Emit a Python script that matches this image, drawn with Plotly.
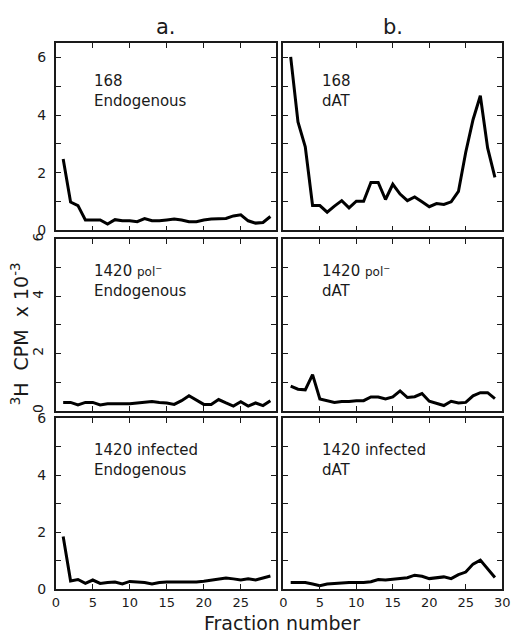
import plotly.graph_objects as go

# ---------------- data ----------------
fractions = list(range(1, 30))

a_168_endogenous = [2.48, 0.98, 0.86, 0.36, 0.36, 0.36, 0.22, 0.37, 0.33, 0.33,
                    0.30, 0.41, 0.33, 0.33, 0.36, 0.39, 0.36, 0.30, 0.30, 0.36,
                    0.39, 0.39, 0.41, 0.50, 0.54, 0.33, 0.25, 0.27, 0.48]
b_168_dat = [6.02, 3.76, 2.90, 0.86, 0.86, 0.63, 0.84, 1.03, 0.78, 1.01,
             1.01, 1.66, 1.66, 1.07, 1.60, 1.26, 1.03, 1.16, 0.99, 0.82,
             0.93, 0.90, 0.99, 1.35, 2.71, 3.84, 4.67, 2.86, 1.84]
a_1420pol_endogenous = [0.29, 0.29, 0.20, 0.29, 0.29, 0.20, 0.24, 0.24, 0.24, 0.24,
                        0.27, 0.29, 0.32, 0.29, 0.27, 0.22, 0.35, 0.52, 0.36, 0.22,
                        0.22, 0.39, 0.27, 0.16, 0.31, 0.16, 0.27, 0.18, 0.35]
b_1420pol_dat = [0.86, 0.75, 0.73, 1.26, 0.41, 0.35, 0.29, 0.32, 0.32, 0.35,
                 0.35, 0.48, 0.48, 0.41, 0.48, 0.69, 0.46, 0.49, 0.60, 0.33,
                 0.26, 0.18, 0.33, 0.27, 0.29, 0.52, 0.63, 0.63, 0.42]
a_1420inf_endogenous = [1.85, 0.29, 0.34, 0.20, 0.32, 0.20, 0.23, 0.25, 0.18, 0.27,
                        0.25, 0.23, 0.18, 0.23, 0.25, 0.26, 0.25, 0.25, 0.25, 0.28,
                        0.32, 0.34, 0.39, 0.36, 0.32, 0.36, 0.32, 0.39, 0.46]
b_1420inf_dat = [0.23, 0.23, 0.23, 0.18, 0.12, 0.18, 0.20, 0.20, 0.23, 0.23,
                 0.23, 0.26, 0.34, 0.32, 0.34, 0.36, 0.40, 0.49, 0.45, 0.37,
                 0.40, 0.43, 0.37, 0.51, 0.60, 0.88, 1.02, 0.71, 0.41]

panel_series = [a_168_endogenous, b_168_dat,
                a_1420pol_endogenous, b_1420pol_dat,
                a_1420inf_endogenous, b_1420inf_dat]
panel_line1 = ["168", "168",
               "1420 <span style='font-size:12px'>pol<sup>−</sup></span>",
               "1420 <span style='font-size:12px'>pol<sup>−</sup></span>",
               "1420 infected", "1420 infected"]
panel_line2 = ["Endogenous", "dAT", "Endogenous", "dAT", "Endogenous", "dAT"]
column_titles = ["a.", "b."]
y_tick_labels = [0, 2, 4, 6]
x_tick_labels = [0, 5, 10, 15, 20, 25, 30]

# ---------------- layout geometry (pixels) ----------------
W, H = 519, 641
col_px = [(53, 278), (286, 510)]
row_px = [(36, 228), (237, 413), (421, 596)]
row_ymax = [6.5, 6.0, 6.0]
col_xrange = [[0, 29.7], [0, 30]]
text_center_px = [85, 280, 464]

def px_x(p):
    return p / W

def px_y(p):
    return 1 - p / H

FONT = "DejaVu Sans"
INK = "#1a1a1a"

fig = go.Figure()
layout = dict(
    width=W, height=H,
    margin=dict(l=0, r=0, t=0, b=0),
    paper_bgcolor="white", plot_bgcolor="white",
    showlegend=False,
    font=dict(family=FONT, color=INK),
)
annotations = []

for i, series in enumerate(panel_series):
    r, c = divmod(i, 2)
    n = i + 1
    xa = "x" if n == 1 else f"x{n}"
    ya = "y" if n == 1 else f"y{n}"
    fig.add_trace(go.Scatter(x=fractions, y=series, mode="lines",
                             line=dict(color="black", width=3),
                             xaxis=xa, yaxis=ya))
    x0, x1 = col_px[c]
    y0, y1 = row_px[r]
    common = dict(showline=True, linewidth=1.5, linecolor=INK, mirror="allticks",
                  ticks="inside", ticklen=5, tickwidth=1, tickcolor=INK,
                  showgrid=False, zeroline=False,
                  tickfont=dict(family=FONT, size=14, color=INK))
    layout["xaxis" + ("" if n == 1 else str(n))] = dict(
        common, domain=[px_x(x0), px_x(x1)], anchor=ya, range=col_xrange[c],
        tickmode="array", tickvals=x_tick_labels,
        ticktext=[str(v) for v in x_tick_labels],
        showticklabels=(r == 2), ticklabelstandoff=1,
        tickfont=dict(family=FONT, size=13, color=INK))
    layout["yaxis" + ("" if n == 1 else str(n))] = dict(
        common, domain=[px_y(y1), px_y(y0)], anchor=xa, range=[0, row_ymax[r]],
        tickmode="array", tickvals=y_tick_labels,
        ticktext=[str(v) for v in y_tick_labels],
        minor=dict(dtick=1, ticks="inside", ticklen=5, tickcolor=INK, tickwidth=1),
        showticklabels=(c == 0), ticklabelstandoff=5,
        tickangle=(-90 if r == 1 else 0))
    tx = x0 + 37
    annotations.append(dict(x=px_x(tx), y=px_y(text_center_px[r]), xref="paper", yref="paper",
                            text=panel_line1[i] + "<br>" + panel_line2[i],
                            showarrow=False, xanchor="left", yanchor="middle", align="left",
                            font=dict(family=FONT, size=15, color=INK)))

# column titles
for c, t in enumerate(column_titles):
    x0, x1 = col_px[c]
    annotations.append(dict(x=px_x((x0 + x1) / 2), y=px_y(19), xref="paper", yref="paper",
                            text=t, showarrow=False, xanchor="center", yanchor="middle",
                            font=dict(family=FONT, size=21, color=INK)))

# axis titles
annotations.append(dict(x=px_x(16), y=px_y(334), xref="paper", yref="paper",
                        text="<sup>3</sup>H  CPM  x 10<sup>-3</sup>", textangle=-90,
                        showarrow=False, xanchor="center", yanchor="middle",
                        font=dict(family=FONT, size=19, color=INK)))
annotations.append(dict(x=px_x(285), y=px_y(631), xref="paper", yref="paper",
                        text="Fraction number", showarrow=False,
                        xanchor="center", yanchor="middle",
                        font=dict(family=FONT, size=19, color=INK)))

layout["annotations"] = annotations
fig.update_layout(**layout)
fig.write_html("out.html")
